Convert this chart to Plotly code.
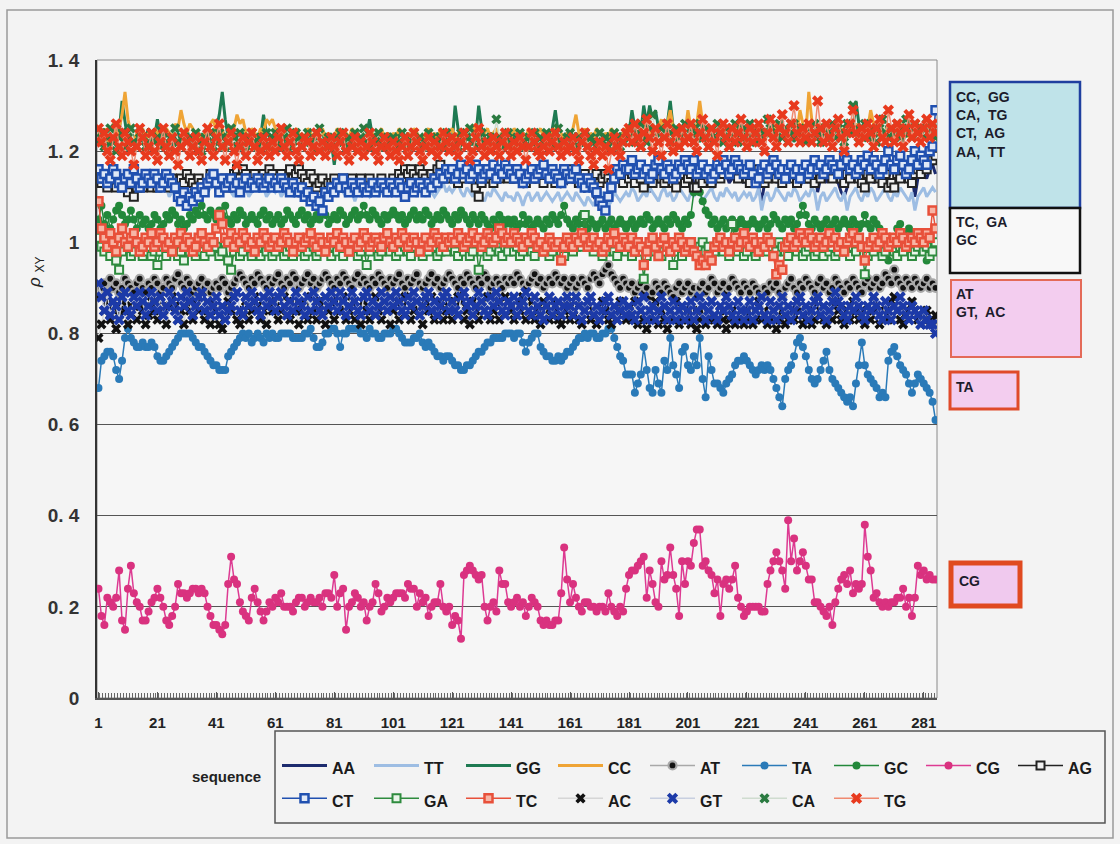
import plotly.graph_objects as go

# ---------------- data (values in hundredths of rho_XY) ----------------
SEQ = list(range(1, 286))

AA = ([115,114,116,113,115,114,113,115,114,112,114,113,115,114,113,112,114,113,115,114]
    + [113,112,114,113,111,112,113,111,110,112,110,111,112,111,112,113,112,114,113,114]
    + [113,112,113,112,114,113,112,114,112,113,114,112,113,112,113,114,112,113,114,112]
    + [113,112,113,112,111,112,113,111,110,112,111,110,112,111,109,110,111,112,111,112]
    + [112,111,113,112,111,113,112,110,112,111,113,112,111,112,113,111,112,113,112,111]
    + [113,111,112,113,111,112,113,112,111,113,112,111,113,112,113,114,113,115,114,115]
    + [114,115,113,114,116,114,113,115,114,113,115,114,116,115,114,115,113,114,116,115]
    + [114,113,115,114,112,113,114,115,113,114,115,114,113,114,115,114,113,112,114,113]
    + [114,113,115,113,112,111,113,112,110,109,110,108,108,111,112,113,114,115,114,113]
    + [115,113,114,116,114,115,113,111,114,115,113,114,116,113,114,115,116,114,113,115]
    + [114,115,113,112,115,116,114,115,113,112,115,114,116,115,113,114,116,115,114,113]
    + [115,114,116,113,112,109,113,115,114,116,113,114,115,113,114,116,113,115,112,114]
    + [115,113,114,116,111,114,115,113,116,114,115,113,111,110,112,115,114,116,113,115]
    + [114,116,115,113,114,115,117,115,114,116,115,113,114,116,115,114,115,110,114,116]
    + [115,114,116,117,115])

TT = ([114,113,115,112,114,113,112,114,113,111,113,112,114,113,112,111,113,112,114,113]
    + [112,111,113,112,110,111,113,112,111,110,112,111,110,112,111,113,112,111,112,113]
    + [112,110,111,113,112,111,110,112,111,113,112,110,111,112,113,111,112,110,111,112]
    + [111,112,110,111,113,112,110,111,112,110,109,111,110,112,111,110,109,111,112,110]
    + [111,110,112,111,110,112,111,109,111,110,112,111,110,111,112,110,111,112,110,111]
    + [112,110,111,112,110,111,112,111,110,112,111,110,112,111,110,111,112,113,111,112]
    + [111,112,113,111,110,112,111,110,112,111,110,109,111,110,112,111,110,109,111,110]
    + [110,109,111,110,108,110,111,109,110,111,109,110,111,110,109,110,111,109,110,111]
    + [110,109,111,110,109,108,110,109,108,110,109,111,110,108,109,111,110,109,110,111]
    + [110,112,111,109,110,111,110,112,111,110,109,111,112,110,111,109,110,112,111,110]
    + [109,111,110,112,111,109,110,111,112,110,109,111,110,112,111,110,111,109,110,111]
    + [110,111,109,110,112,107,110,111,109,110,112,111,110,109,111,110,112,111,109,110]
    + [111,110,112,111,107,110,111,109,110,111,112,110,109,111,107,110,111,112,110,109]
    + [111,110,112,111,109,110,111,112,110,109,111,110,112,111,110,109,111,107,110,111]
    + [112,110,111,112,111])

GG = ([123,122,124,121,123,122,125,124,131,126,122,124,123,121,124,122,123,125,122,123]
    + [127,123,122,124,123,121,123,124,122,123,125,122,121,123,124,122,123,124,122,123]
    + [125,128,133,127,123,122,124,123,122,124,123,121,123,124,122,123,128,124,122,123]
    + [124,122,123,121,124,123,122,124,123,121,123,124,122,123,122,124,123,121,123,122]
    + [117,122,123,124,122,123,121,123,124,122,123,124,127,123,122,124,123,122,124,123]
    + [122,124,123,121,123,124,122,123,124,122,123,121,124,123,122,124,123,122,123,124]
    + [122,130,125,123,122,124,123,122,123,130,125,123,122,124,123,121,123,124,122,123]
    + [124,122,123,121,124,123,122,124,123,122,123,124,122,123,125,129,124,122,123,124]
    + [122,123,124,122,121,123,124,122,123,121,124,122,123,124,122,123,121,124,123,122]
    + [124,129,125,123,124,130,126,130,127,129,125,123,124,126,131,125,123,124,122,125]
    + [123,124,126,123,122,125,124,121,123,125,124,122,123,125,124,122,123,124,125,123]
    + [122,124,125,123,124,122,125,124,123,125,124,122,124,125,123,124,122,125,124,123]
    + [125,124,122,125,123,124,126,124,123,125,124,122,125,123,124,126,124,131,126,124]
    + [123,125,124,122,125,124,123,125,126,124,123,125,124,122,125,124,126,123,125,124]
    + [123,125,124,126,125])

CC = ([124,123,125,122,124,126,123,125,128,133,127,124,122,124,123,125,122,124,123,125]
    + [124,122,123,125,124,123,126,125,129,126,124,126,125,123,124,122,124,123,126,127]
    + [124,123,125,122,124,123,125,128,126,127,124,123,125,124,123,125,124,127,126,127]
    + [125,124,123,125,122,124,123,125,124,122,123,125,124,123,124,122,125,123,124,122]
    + [123,125,124,122,124,123,125,124,123,122,124,125,123,124,122,124,125,123,124,122]
    + [124,123,125,124,122,124,123,125,124,123,122,124,125,123,124,122,125,124,123,124]
    + [125,123,124,122,124,125,123,124,126,123,122,124,125,123,124,125,123,124,122,124]
    + [123,125,124,122,124,123,125,124,122,124,125,123,124,122,124,125,123,124,122,124]
    + [123,125,128,124,123,125,122,124,123,125,124,122,124,123,125,124,123,122,124,125]
    + [124,123,125,126,124,127,125,123,126,124,125,127,124,126,129,125,124,123,125,124]
    + [129,125,124,126,131,126,124,125,123,124,126,124,125,123,124,125,123,126,124,125]
    + [124,123,125,124,126,123,124,125,123,124,126,125,124,123,125,126,127,124,129,126]
    + [124,133,127,125,124,126,124,123,125,124,126,123,125,124,123,125,124,126,125,123]
    + [124,125,129,126,124,123,125,124,126,125,123,124,126,125,124,123,125,124,126,124]
    + [125,123,124,126,125])

AT = ([88,90,91,89,92,90,91,89,90,92,91,90,89,91,92,90,89,91,90,92]
    + [91,89,90,92,91,90,92,93,91,90,92,91,89,90,91,92,90,91,89,90]
    + [91,90,92,91,89,90,91,92,93,92,91,90,92,91,93,92,91,90,92,91]
    + [92,93,91,90,92,91,93,92,90,91,92,93,91,92,90,91,92,93,92,91]
    + [90,92,91,93,92,91,90,92,93,91,92,91,90,92,91,93,92,91,90,92]
    + [91,92,93,91,90,92,91,92,93,91,90,91,92,93,91,92,90,91,92,93]
    + [92,91,90,92,91,93,92,91,90,92,91,93,92,90,91,92,91,90,92,91]
    + [92,91,93,92,91,90,91,92,93,91,92,90,91,92,91,93,92,91,92,90]
    + [91,92,90,91,92,91,90,92,93,92,91,93,94,95,93,92,91,90,92,91]
    + [90,91,89,90,91,89,90,88,89,91,90,89,91,90,89,88,90,91,89,90]
    + [91,89,90,88,90,91,89,90,92,91,89,90,91,89,90,92,91,90,89,91]
    + [90,89,91,90,89,88,90,89,91,90,91,89,88,90,91,92,90,89,91,90]
    + [92,91,90,89,91,92,90,91,89,90,92,91,90,89,91,90,92,91,90,89]
    + [91,92,90,91,92,90,91,93,92,91,94,92,91,90,92,91,90,92,91,90]
    + [91,92,90,91,90])

TA = ([68,74,75,76,76,75,72,70,74,79,81,79,78,77,77,78,77,77,78,77]
    + [75,74,74,75,76,77,78,79,80,80,80,80,79,78,77,77,76,75,74,73]
    + [73,72,72,72,75,76,77,78,79,80,79,80,78,79,80,79,78,80,79,80]
    + [79,79,80,80,80,80,79,79,79,79,80,80,81,79,77,77,78,80,80,81]
    + [81,80,77,80,80,81,81,81,81,80,80,79,81,80,80,79,79,80,80,80]
    + [81,81,80,79,78,78,78,79,79,80,78,77,78,77,76,75,75,74,75,75]
    + [74,73,73,72,72,73,73,74,75,76,76,77,78,78,79,79,79,79,80,80]
    + [80,79,80,80,78,76,78,79,80,80,77,76,75,75,74,74,75,74,75,76]
    + [76,77,78,79,79,80,79,80,80,79,79,80,80,81,81,79,77,75,74,71]
    + [71,71,67,69,71,77,72,68,67,72,69,67,74,72,79,73,71,68,76,77]
    + [73,72,75,73,79,70,66,75,72,69,69,68,67,69,70,71,73,74,74,75]
    + [74,73,72,71,72,73,72,73,72,70,68,66,64,70,72,73,75,78,79,77]
    + [75,72,70,69,70,72,74,76,72,70,69,68,67,66,65,66,64,69,73,78]
    + [73,71,70,69,68,66,67,66,74,76,77,75,73,72,71,69,67,69,71,70]
    + [69,68,67,65,61])

GC = ([105,108,104,106,103,105,107,108,106,104,105,107,105,103,106,104,105,103,104,106]
    + [105,103,104,106,105,107,106,104,105,103,104,106,105,107,106,108,106,105,107,106]
    + [105,107,106,108,105,104,106,105,107,106,104,105,106,105,104,106,107,105,106,104]
    + [105,106,104,105,107,106,105,104,106,107,105,106,104,105,106,105,107,106,104,105]
    + [106,105,107,106,104,105,106,107,105,106,108,106,105,107,106,105,104,106,105,106]
    + [107,106,105,106,104,105,106,107,105,106,105,107,106,104,105,106,105,107,106,105]
    + [104,106,105,107,106,105,104,106,105,104,106,105,104,103,105,104,106,105,104,105]
    + [104,105,103,104,106,104,105,103,104,105,104,103,105,104,106,105,104,106,108,105]
    + [104,103,105,104,106,104,103,105,104,103,104,105,103,104,105,103,104,105,104,103]
    + [104,105,103,104,105,104,106,105,103,104,105,104,103,105,104,106,105,104,103,105]
    + [104,106,111,112,111,109,107,106,104,105,103,104,105,103,104,105,103,104,105,104]
    + [103,104,105,104,103,104,105,103,104,106,105,104,103,105,104,105,103,104,106,108]
    + [106,104,103,105,104,103,104,105,103,104,105,103,104,105,104,103,105,104,103,104]
    + [106,104,103,105,104,103,102,100,96,99,101,103,104,102,101,103,102,100,102,101]
    + [99,96,100,99,98])

CG = ([24,18,16,22,21,20,22,28,17,15,24,29,23,21,20,17,17,19,21,22]
    + [24,22,20,17,16,18,20,25,23,23,22,23,24,24,23,24,23,20,18,16]
    + [16,15,14,16,25,31,26,25,21,19,18,17,22,24,21,19,17,19,21,20]
    + [22,21,23,20,20,20,19,21,22,22,20,21,22,21,21,22,20,23,23,22]
    + [27,20,23,24,15,20,21,23,22,20,21,17,20,21,25,23,19,20,22,21]
    + [22,23,23,23,22,25,24,24,20,23,21,22,18,20,21,21,25,20,19,20]
    + [16,18,17,13,27,28,29,28,27,26,27,20,17,20,21,19,28,25,25,21]
    + [20,21,22,20,21,18,20,22,21,20,17,16,17,16,16,17,17,23,33,26]
    + [21,25,22,20,19,21,21,20,20,19,20,20,19,23,20,19,18,20,19,24]
    + [27,28,28,29,30,31,22,28,25,21,20,30,26,27,33,27,24,18,30,25]
    + [30,29,34,37,37,29,30,28,27,23,26,18,25,26,24,26,29,22,20,18]
    + [19,20,20,20,20,19,19,25,28,30,32,30,28,24,39,30,35,28,30,32]
    + [29,26,26,21,21,20,19,18,20,16,21,24,26,27,25,28,23,25,24,25]
    + [38,31,28,22,23,21,20,21,20,21,21,22,22,24,20,22,18,22,29,27]
    + [28,26,27,26,26])

AG = ([115,113,114,112,113,114,112,113,114,112,111,113,110,112,113,112,114,113,112,113]
    + [112,113,114,113,112,114,113,112,114,113,115,114,113,112,114,113,112,113,115,114]
    + [113,112,113,114,112,113,115,116,114,116,115,114,113,115,114,113,115,114,116,115]
    + [114,113,115,114,113,116,114,115,116,115,114,113,115,114,112,113,114,112,113,113]
    + [114,112,113,114,112,113,114,113,112,114,113,112,114,113,112,113,114,112,113,112]
    + [114,113,115,114,116,115,116,115,114,116,115,114,113,115,114,116,117,115,114,116]
    + [115,114,113,115,114,116,115,114,112,110,113,114,115,114,113,115,114,116,115,114]
    + [115,114,116,115,114,113,115,114,116,115,114,113,115,116,114,113,115,114,114,115]
    + [116,114,115,113,114,115,114,113,114,115,113,114,115,114,113,114,115,114,113,115]
    + [114,115,113,116,114,112,115,114,113,116,115,114,113,114,115,113,112,114,115,113]
    + [114,115,112,112,114,113,115,114,113,115,116,114,115,117,116,117,115,114,116,115]
    + [114,113,115,114,116,115,113,114,115,116,114,115,113,114,116,115,114,113,115,114]
    + [116,114,115,113,116,114,115,116,115,114,116,115,114,113,115,114,116,115,114,113]
    + [112,115,114,116,115,114,113,115,112,113,112,115,114,116,115,114,113,115,116,115]
    + [117,116,118,118,119])

CT = ([116,114,115,113,114,116,115,113,112,114,115,113,116,114,112,113,115,114,113,115]
    + [114,112,113,115,114,113,112,110,109,111,108,110,109,111,110,112,111,113,114,115]
    + [113,111,114,112,113,114,112,113,111,113,114,112,113,112,114,113,112,113,114,112]
    + [113,112,114,113,112,111,113,112,111,112,110,111,109,110,108,109,107,111,110,112]
    + [111,113,112,114,112,111,113,112,111,113,112,111,112,113,111,112,113,112,111,113]
    + [112,111,113,112,110,112,113,111,112,113,112,111,113,112,114,113,115,114,116,115]
    + [116,114,115,117,115,116,114,115,117,116,114,115,116,115,117,114,116,115,117,116]
    + [115,114,116,115,113,114,115,116,114,115,116,117,115,114,116,115,114,113,116,115]
    + [114,115,116,114,113,112,114,113,112,111,109,108,107,110,112,114,116,115,117,116]
    + [116,118,115,116,117,115,116,114,115,117,118,116,115,117,116,114,115,117,116,118]
    + [117,116,118,115,116,117,115,116,114,115,117,116,118,117,115,116,118,117,116,115]
    + [116,117,115,113,114,116,117,115,116,118,117,115,116,114,116,117,115,116,114,116]
    + [117,115,116,118,116,117,115,116,118,117,116,115,117,119,118,116,117,115,116,118]
    + [117,119,116,118,117,115,116,118,120,117,116,118,119,117,115,116,118,120,117,119]
    + [118,117,120,121,129])

GA = ([101,99,98,100,97,99,96,94,98,100,99,97,98,100,99,97,98,99,97,98]
    + [95,98,99,97,100,98,99,97,98,96,99,98,100,97,99,98,97,99,98,100]
    + [99,97,98,100,96,94,98,99,97,98,100,99,97,98,99,97,100,98,99,97]
    + [98,100,99,97,98,99,97,100,98,99,97,98,100,99,97,98,99,100,98,97]
    + [99,98,100,97,99,98,100,99,97,98,99,95,98,100,99,97,98,99,100,98]
    + [99,97,98,100,99,98,97,99,100,98,97,99,98,100,99,97,98,99,98,100]
    + [99,98,97,100,98,99,97,98,100,94,98,99,97,98,100,99,98,97,99,98]
    + [100,98,99,97,98,100,99,98,97,99,100,98,99,97,98,100,99,98,97,99]
    + [100,98,99,101,99,106,101,99,98,100,99,97,98,100,99,98,97,99,100,98]
    + [99,97,98,100,98,92,97,99,100,98,99,97,98,99,100,95,98,99,97,98]
    + [100,99,98,97,99,100,98,99,97,98,99,100,98,99,97,104,100,98,99,97]
    + [98,100,99,97,98,99,100,98,99,97,98,100,99,98,97,99,100,98,99,97]
    + [98,99,100,97,98,99,97,100,98,99,97,98,100,99,98,97,99,98,100,99]
    + [93,97,99,98,100,99,97,98,99,100,98,97,99,98,100,99,97,98,99,100]
    + [98,99,97,98,100])

TC = ([109,103,101,99,102,100,98,101,103,100,99,101,102,100,98,99,101,100,102,99]
    + [100,102,101,99,100,98,101,100,102,99,101,100,98,99,101,102,100,99,101,100]
    + [103,106,104,101,100,102,99,101,100,102,101,99,100,98,101,100,102,101,99,100]
    + [101,99,100,102,101,100,98,100,101,99,100,101,102,100,99,101,100,98,100,101]
    + [100,102,99,101,100,98,100,101,99,100,102,101,99,100,101,100,99,101,102,100]
    + [99,101,100,102,101,99,100,101,100,98,100,101,99,100,102,101,100,99,101,100]
    + [101,100,102,101,99,100,101,102,100,101,99,100,102,101,100,101,103,102,100,101]
    + [100,102,101,100,99,101,100,102,101,99,100,98,99,101,100,99,100,96,99,101]
    + [100,99,101,100,102,101,99,100,101,99,100,98,99,101,100,102,100,99,101,100]
    + [99,101,98,100,99,95,98,100,101,99,97,100,101,99,98,100,99,101,100,98]
    + [99,100,98,97,95,96,95,97,96,99,100,101,99,100,98,100,101,99,100,102]
    + [100,99,101,100,98,100,99,101,100,97,93,95,94,99,100,101,99,100,102,101]
    + [100,102,101,99,100,101,99,100,102,100,101,99,100,98,100,101,102,100,101,99]
    + [96,99,100,101,99,100,102,101,99,100,101,100,102,101,99,100,101,100,102,101]
    + [100,102,101,107,103])

AC = ([79,82,85,87,83,86,81,84,87,85,82,86,88,83,86,85,82,84,87,85]
    + [83,87,85,82,86,88,86,83,85,82,87,85,83,87,85,88,83,85,82,87]
    + [85,82,81,84,87,85,88,83,82,85,87,83,85,88,86,83,85,82,87,85]
    + [87,83,85,88,85,83,87,85,82,85,87,83,88,85,83,87,85,82,85,87]
    + [83,87,85,88,83,85,87,83,85,82,87,85,83,87,88,85,83,87,85,82]
    + [85,87,83,85,88,87,83,85,87,85,82,87,85,88,83,85,87,83,85,87]
    + [83,85,88,87,83,85,82,87,85,83,87,85,88,83,85,87,83,85,88,87]
    + [85,83,87,85,88,83,85,87,83,85,82,87,85,83,87,85,83,82,85,87]
    + [83,85,87,83,82,85,87,83,85,82,83,87,85,83,82,85,83,87,85,83]
    + [85,83,87,82,85,83,81,85,83,87,82,85,83,81,85,83,87,82,83,85]
    + [83,82,85,81,83,85,82,83,87,83,82,85,83,81,83,85,82,83,85,82]
    + [83,85,82,83,87,83,85,82,83,85,81,83,85,82,83,85,83,87,85,82]
    + [83,85,82,83,87,85,83,82,85,83,87,85,83,82,85,83,87,85,83,85]
    + [82,85,83,87,85,82,83,85,83,87,88,85,83,82,85,83,87,85,83,82]
    + [83,85,82,83,84])

GT = ([91,88,85,89,84,87,86,83,88,89,85,84,88,86,89,87,84,86,89,87]
    + [85,88,84,86,89,87,85,83,88,86,89,87,84,86,88,89,85,87,84,86]
    + [88,84,86,83,85,86,88,89,85,84,88,86,89,87,85,84,88,86,89,87]
    + [85,88,89,86,84,87,85,89,87,86,84,88,85,89,87,85,84,88,86,89]
    + [87,85,89,87,84,86,89,87,85,84,88,89,85,87,84,86,89,87,85,88]
    + [86,89,87,85,84,88,86,89,87,84,86,88,89,85,87,84,86,88,89,85]
    + [87,85,84,88,89,86,87,84,86,89,87,85,84,88,86,89,87,85,84,87]
    + [86,88,84,86,87,89,85,84,88,86,84,83,86,88,84,86,87,84,86,88]
    + [86,84,88,86,83,85,87,88,84,86,83,85,87,88,84,86,83,85,87,84]
    + [86,84,83,87,85,88,83,85,86,83,85,88,86,83,85,87,83,85,86,83]
    + [85,87,83,85,88,86,83,85,87,84,83,86,85,88,86,84,83,87,85,83]
    + [85,87,83,85,86,88,84,83,87,85,83,86,88,84,86,83,85,87,88,84]
    + [86,83,85,87,88,84,86,83,85,87,89,87,86,84,83,86,85,88,86,84]
    + [83,86,85,88,86,84,83,87,85,83,86,85,88,86,84,83,86,85,84,82]
    + [85,83,82,82,80])

CA = ([122,124,121,123,125,122,120,123,124,121,123,125,122,121,124,123,121,122,124,122]
    + [123,121,124,122,120,123,125,122,121,124,122,123,121,124,122,120,123,122,124,121]
    + [122,124,123,121,122,125,123,121,124,122,120,123,124,122,121,123,122,124,121,123]
    + [124,122,121,123,125,122,121,124,123,121,122,124,122,120,123,125,122,121,123,122]
    + [121,123,124,122,121,123,122,124,121,123,125,122,121,123,122,124,122,121,123,122]
    + [123,121,122,124,123,121,122,124,122,123,121,122,124,123,121,122,123,121,124,122]
    + [123,122,121,124,122,123,125,122,121,123,124,122,121,123,122,127,123,121,122,124]
    + [122,121,123,124,122,121,123,122,124,121,123,122,124,122,121,123,125,122,121,123]
    + [124,122,121,123,122,124,121,123,122,121,124,122,123,121,122,124,123,121,122,124]
    + [123,125,122,124,126,123,122,125,128,124,122,125,123,126,124,122,125,123,124,126]
    + [123,125,122,124,126,123,125,122,124,123,126,124,122,125,123,124,126,122,124,125]
    + [123,126,124,122,125,123,124,127,125,123,124,126,123,125,122,124,126,123,125,124]
    + [122,125,123,126,124,122,125,123,124,126,123,125,124,122,126,124,130,125,123,124]
    + [126,123,125,124,122,125,127,124,123,125,124,126,123,125,127,124,123,126,124,125]
    + [123,126,124,125,123])

TG = ([125,122,124,120,118,123,126,121,119,124,122,120,117,121,125,123,119,121,124,120]
    + [118,122,125,121,119,123,120,117,121,124,122,119,121,123,120,118,122,125,121,119]
    + [123,126,121,118,122,124,120,117,121,123,119,122,124,121,118,120,123,121,119,122]
    + [120,123,125,121,119,122,124,120,118,121,123,122,119,121,124,120,122,119,121,123]
    + [121,119,122,124,120,118,121,123,120,122,119,121,124,122,120,118,121,123,121,119]
    + [122,120,118,121,123,119,121,124,122,120,118,121,123,120,122,119,121,124,122,120]
    + [123,121,119,122,124,121,118,120,123,125,121,119,122,120,123,121,119,122,124,121]
    + [119,122,120,123,121,118,121,124,122,120,119,121,123,120,122,124,121,119,122,120]
    + [121,123,120,118,122,124,121,119,117,120,122,119,121,116,120,123,121,119,122,124]
    + [125,122,126,123,121,124,127,123,120,125,122,119,123,126,122,120,124,121,125,122]
    + [123,126,122,120,124,127,123,121,125,122,119,124,126,123,121,125,122,124,127,123]
    + [121,125,122,124,126,122,120,124,127,123,121,125,128,124,122,126,130,124,122,125]
    + [123,126,122,124,131,125,122,126,123,121,125,127,123,120,124,126,129,124,122,125]
    + [123,126,124,121,125,127,123,122,129,125,122,126,124,121,125,128,123,126,124,122]
    + [125,127,123,126,124])

Y_TICKS = [0, 0.2, 0.4, 0.6, 0.8, 1.0, 1.2, 1.4]
Y_TICK_TEXT = ["0", "0. 2", "0. 4", "0. 6", "0. 8", "1", "1. 2", "1. 4"]
X_TICKS = list(range(1, 286, 20))

# ---------------- styling ----------------
W, H = 1120, 844
PL, PR, PT, PB = 97, 937, 60, 698   # plot area in pixels


def fx(px):
    return (px - PL) / (PR - PL)


def fy(py):
    return (PB - py) / (PB - PT)


SANS = "Liberation Sans, Arial, sans-serif"

STYLE = {
    "AA": dict(mode="lines", line=dict(color="#1c2b6e", width=3)),
    "TT": dict(mode="lines", line=dict(color="#9dbde3", width=3)),
    "GG": dict(mode="lines", line=dict(color="#1e7a52", width=3)),
    "CC": dict(mode="lines", line=dict(color="#efa435", width=3)),
    "AT": dict(mode="lines+markers", line=dict(color="#a8a8a8", width=1.5),
               marker=dict(symbol="circle", size=8, color="#111111",
                           line=dict(color="#a8a8a8", width=2.2))),
    "TA": dict(mode="lines+markers", line=dict(color="#2a7ab8", width=1.5),
               marker=dict(symbol="circle", size=8, color="#2a7ab8")),
    "GC": dict(mode="lines+markers", line=dict(color="#22883a", width=1.5),
               marker=dict(symbol="circle", size=8, color="#22883a")),
    "CG": dict(mode="lines+markers", line=dict(color="#dd3a92", width=1.5),
               marker=dict(symbol="circle", size=8, color="#d9327f")),
    "AG": dict(mode="lines+markers", line=dict(color="#222222", width=1.5),
               marker=dict(symbol="square", size=8, color="#f2f2f2",
                           line=dict(color="#222222", width=2))),
    "CT": dict(mode="lines+markers", line=dict(color="#2050b0", width=1.5),
               marker=dict(symbol="square", size=8, color="#dfe8f7",
                           line=dict(color="#2050b0", width=2.5))),
    "GA": dict(mode="lines+markers", line=dict(color="#2e8b3e", width=1.5),
               marker=dict(symbol="square", size=8, color="#eaf5ea",
                           line=dict(color="#2e8b3e", width=2))),
    "TC": dict(mode="lines+markers", line=dict(color="#e8503a", width=1.5),
               marker=dict(symbol="square", size=8, color="#f7b5a5",
                           line=dict(color="#e8503a", width=2.5))),
    "AC": dict(mode="lines+markers", line=dict(color="#d6d6d6", width=1.5),
               marker=dict(symbol="x", size=9, color="#111111")),
    "GT": dict(mode="lines+markers", line=dict(color="#c8cfe0", width=1.5),
               marker=dict(symbol="x", size=10, color="#1c3aa8")),
    "CA": dict(mode="lines+markers", line=dict(color="#cfdccf", width=1.5),
               marker=dict(symbol="x", size=9, color="#2a7a40")),
    "TG": dict(mode="lines+markers", line=dict(color="#f08a70", width=1.5),
               marker=dict(symbol="x", size=10, color="#e83a1e")),
}

SERIES = [("AA", AA), ("TT", TT), ("GG", GG), ("CC", CC), ("AT", AT),
          ("TA", TA), ("GC", GC), ("CG", CG), ("AG", AG), ("CT", CT),
          ("GA", GA), ("TC", TC), ("AC", AC), ("GT", GT), ("CA", CA), ("TG", TG)]

fig = go.Figure()
for name, vals in SERIES:
    assert len(vals) == len(SEQ), (name, len(vals))
    fig.add_trace(go.Scatter(
        x=SEQ, y=[v / 100 for v in vals],
        name='<span style="font-size:16px">' + name + '</span>',
        hovertemplate=name + " %{x}: %{y}<extra></extra>", **STYLE[name]))

shapes = [
    # outer frame
    dict(type="rect", xref="paper", yref="paper", x0=fx(7), x1=fx(1113), y0=fy(10), y1=fy(838),
         line=dict(color="#9a9a9a", width=1.5), fillcolor="rgba(0,0,0,0)", layer="below"),
    # plot area border
    dict(type="rect", xref="paper", yref="paper", x0=0, x1=1, y0=0, y1=1,
         line=dict(color="#8a8a8a", width=1), fillcolor="rgba(0,0,0,0)", layer="below"),
    # legend frame
    dict(type="rect", xref="paper", yref="paper", x0=fx(275), x1=fx(1105), y0=fy(823), y1=fy(731),
         line=dict(color="#555555", width=1.5), fillcolor="rgba(0,0,0,0)"),
    # group boxes
    dict(type="rect", xref="paper", yref="paper", x0=fx(950), x1=fx(1080), y0=fy(208), y1=fy(82),
         line=dict(color="#1f3f9f", width=2.5), fillcolor="#bfe3e9"),
    dict(type="rect", xref="paper", yref="paper", x0=fx(950), x1=fx(1080), y0=fy(273), y1=fy(208),
         line=dict(color="#111111", width=2.5), fillcolor="#f8f8f8"),
    dict(type="rect", xref="paper", yref="paper", x0=fx(951), x1=fx(1081), y0=fy(357), y1=fy(280),
         line=dict(color="#e46a58", width=2), fillcolor="#f3cdef"),
    dict(type="rect", xref="paper", yref="paper", x0=fx(950), x1=fx(1018), y0=fy(409), y1=fy(372),
         line=dict(color="#e04a2a", width=3), fillcolor="#f3cdef"),
    dict(type="rect", xref="paper", yref="paper", x0=fx(951), x1=fx(1020), y0=fy(606), y1=fy(563),
         line=dict(color="#e04a20", width=5), fillcolor="#f0c9ee"),
]

BOX_FONT = dict(family=SANS, size=14, color="#1c1c2c", weight="bold")
annotations = [
    dict(xref="paper", yref="paper", x=fx(954), y=fy(87), xanchor="left", yanchor="top",
         align="left", showarrow=False, font=BOX_FONT,
         text="CC,  GG<br>CA,  TG<br>CT,  AG<br>AA,  TT"),
    dict(xref="paper", yref="paper", x=fx(954), y=fy(212), xanchor="left", yanchor="top",
         align="left", showarrow=False, font=BOX_FONT, text="TC,  GA<br>GC"),
    dict(xref="paper", yref="paper", x=fx(954), y=fy(284), xanchor="left", yanchor="top",
         align="left", showarrow=False, font=BOX_FONT, text="AT<br>GT,  AC"),
    dict(xref="paper", yref="paper", x=fx(954), y=fy(377), xanchor="left", yanchor="top",
         align="left", showarrow=False, font=BOX_FONT, text="TA"),
    dict(xref="paper", yref="paper", x=fx(957), y=fy(571), xanchor="left", yanchor="top",
         align="left", showarrow=False, font=BOX_FONT, text="CG"),
    # y-axis title
    dict(xref="paper", yref="paper", x=fx(36), y=fy(272), xanchor="center", yanchor="middle",
         textangle=-90, showarrow=False,
         font=dict(family=SANS, size=17, color="#222222"), text="<i>ρ</i> <sub>XY</sub>"),
    # x-axis title
    dict(xref="paper", yref="paper", x=fx(226), y=fy(776), xanchor="center", yanchor="middle",
         showarrow=False,
         font=dict(family=SANS, size=15, color="#222222", weight="bold"), text="sequence"),
]

fig.update_layout(
    width=W, height=H,
    margin=dict(l=PL, r=W - PR, t=PT, b=H - PB, pad=0),
    paper_bgcolor="#f3f3f3",
    plot_bgcolor="#f6f6f6",
    showlegend=True,
    legend=dict(
        orientation="h", xref="paper", yref="paper",
        x=fx(277), y=fy(744), xanchor="left", yanchor="top",
        bgcolor="rgba(0,0,0,0)", borderwidth=0,
        font=dict(family=SANS, size=23, color="#1a1a1a", weight="bold"),
        itemwidth=45, entrywidth=32, entrywidthmode="pixels",
        tracegroupgap=0, traceorder="normal", itemclick=False,
    ),
    xaxis=dict(
        range=[0.5, 285.5], tickmode="array", tickvals=X_TICKS,
        ticks="inside", ticklen=6, tickcolor="#555555", tickwidth=1,
        minor=dict(dtick=1, tick0=0.5, ticks="inside", ticklen=5, tickcolor="#666666", tickwidth=1),
        showgrid=False, zeroline=False, showline=True, linecolor="#555555", linewidth=2,
        tickfont=dict(family=SANS, size=15, color="#222222", weight="bold"),
        ticklabelstandoff=10,
    ),
    yaxis=dict(
        range=[0, 1.4], tickmode="array", tickvals=Y_TICKS, ticktext=Y_TICK_TEXT,
        ticks="", showgrid=True, gridcolor="#555555", gridwidth=1,
        zeroline=False, showline=True, linecolor="#333333", linewidth=1.5,
        tickfont=dict(family=SANS, size=19, color="#333333", weight="bold"),
        ticklabelstandoff=12,
    ),
    shapes=shapes,
    annotations=annotations,
)

fig.write_html("out.html")
